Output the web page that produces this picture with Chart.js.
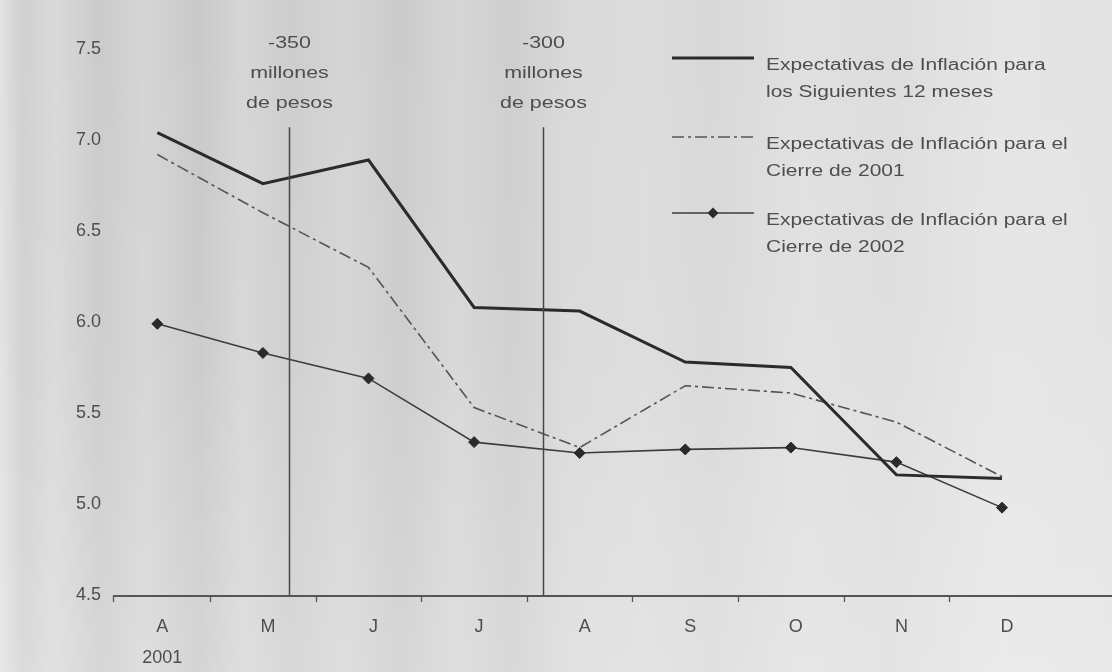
<!DOCTYPE html>
<html><head><meta charset="utf-8">
<script src="https://cdn.jsdelivr.net/npm/chart.js@4.4.1/dist/chart.umd.min.js"></script>
<style>
html,body{margin:0;padding:0;width:1112px;height:672px;overflow:hidden;}
body{
  background:
    linear-gradient(to bottom, rgba(255,255,255,0) 0%, rgba(255,255,255,0.05) 50%, rgba(255,255,255,0.22) 100%),
    linear-gradient(to right, #e2e2e2 0%, #d0d0d0 2%, #d9d9d9 5%, #cbcbcb 9%, #d5d5d5 13%, #c9c9c9 18%, #d6d6d6 22%, #cdcdcd 26%, #d5d5d5 31%, #cbcbcb 36%, #d6d6d6 41%, #cecece 46%, #d9d9d9 51%, #dcdcdc 58%, #d8d8d8 64%, #e0e0e0 72%, #dddddd 80%, #e5e5e5 90%, #e3e3e3 100%);
}
canvas{display:block;}
</style></head>
<body>
<canvas id="c" width="1112" height="672"></canvas>
<script>
// ---- data ----
const months = ['A','M','J','J','A','S','O','N','D'];
const yearLabel = '2001';
const sig12 = [7.04, 6.76, 6.89, 6.08, 6.06, 5.78, 5.75, 5.16, 5.14];
const cierre2001 = [6.92, 6.60, 6.30, 5.53, 5.31, 5.65, 5.61, 5.45, 5.15];
const cierre2002 = [5.99, 5.83, 5.69, 5.34, 5.28, 5.30, 5.31, 5.23, 4.98];
const seriesNames = [
  ['Expectativas de Inflación para', 'los Siguientes 12 meses'],
  ['Expectativas de Inflación para el', 'Cierre de 2001'],
  ['Expectativas de Inflación para el', 'Cierre de 2002']
];
const yTicks = [4.5, 5.0, 5.5, 6.0, 6.5, 7.0, 7.5];
const markerPos = [1.25, 3.65];
const markerText = [['-350', 'millones', 'de pesos'], ['-300', 'millones', 'de pesos']];
const markerTop = 7.07;

// ---- styles ----
const FONT = '"Liberation Sans", Arial, Helvetica, sans-serif';
const TXT = '#4e4e4e';

function stretchedText(ctx, t, x, y, align, k) {
  ctx.save();
  ctx.textAlign = 'left';
  const w = ctx.measureText(t).width * k;
  let x0 = x;
  if (align === 'center') x0 = x - w / 2;
  ctx.translate(x0, y);
  ctx.scale(k, 1);
  ctx.fillText(t, 0, 0);
  ctx.restore();
}

const toPts = arr => arr.map((v, i) => ({x: i, y: v}));

const markersPlugin = {
  id: 'markers',
  afterDatasetsDraw(chart) {
    const {ctx, chartArea, scales: {x, y}} = chart;
    ctx.save();
    // x axis line across full width
    ctx.strokeStyle = '#555';
    ctx.lineWidth = 2;
    ctx.beginPath();
    ctx.moveTo(chartArea.left, chartArea.bottom + 1);
    ctx.lineTo(chart.width, chartArea.bottom + 1);
    ctx.stroke();
    markerPos.forEach((p, i) => {
      const px = Math.round(x.getPixelForValue(p)) + 0.5;
      ctx.strokeStyle = '#474747';
      ctx.lineWidth = 1.5;
      ctx.beginPath();
      ctx.moveTo(px, y.getPixelForValue(markerTop));
      ctx.lineTo(px, chartArea.bottom);
      ctx.stroke();
      ctx.fillStyle = TXT;
      ctx.font = '17px ' + FONT;
      ctx.textBaseline = 'middle';
      markerText[i].forEach((t, j) => {
        stretchedText(ctx, t, px, chartArea.top - 6 + j * 30, 'center', 1.26);
      });
    });
    // axis tick marks between categories
    ctx.strokeStyle = '#555';
    ctx.lineWidth = 1.3;
    const ticksAt = [chartArea.left];
    for (let k = 0; k < months.length - 1; k++) ticksAt.push(x.getPixelForValue(k + 0.5));
    ticksAt.forEach(tx => {
      const px = Math.round(tx) + 0.5;
      ctx.beginPath();
      ctx.moveTo(px, chartArea.bottom);
      ctx.lineTo(px, chartArea.bottom + 7);
      ctx.stroke();
    });
    ctx.restore();
  }
};

const legendPlugin = {
  id: 'customLegend',
  afterDraw(chart) {
    const {ctx} = chart;
    const sampleY = [58, 137, 213];
    const x0 = 672, x1 = 754, tx = 766;
    ctx.save();
    chart.data.datasets.forEach((ds, i) => {
      const sy = sampleY[i];
      ctx.strokeStyle = ds.borderColor;
      ctx.lineWidth = ds.borderWidth;
      ctx.setLineDash(ds.borderDash || []);
      ctx.beginPath();
      ctx.moveTo(x0, sy);
      ctx.lineTo(x1, sy);
      ctx.stroke();
      ctx.setLineDash([]);
      if (ds.pointRadius > 0) {
        const cx = (x0 + x1) / 2, r = ds.pointRadius;
        ctx.fillStyle = ds.pointBackgroundColor;
        ctx.beginPath();
        ctx.moveTo(cx, sy - r); ctx.lineTo(cx + r, sy); ctx.lineTo(cx, sy + r); ctx.lineTo(cx - r, sy);
        ctx.closePath();
        ctx.fill();
      }
      ctx.fillStyle = TXT;
      ctx.font = '16px ' + FONT;
      ctx.textBaseline = 'middle';
      seriesNames[i].forEach((t, j) => {
        stretchedText(ctx, t, tx, sy + 8 + j * 27, 'left', 1.31);
      });
    });
    ctx.restore();
  }
};

new Chart(document.getElementById('c'), {
  type: 'line',
  data: {
    datasets: [
      {label: seriesNames[0].join(' '), data: toPts(sig12), borderColor: '#2b2b2b', borderWidth: 3,
       pointRadius: 0, tension: 0, order: 1},
      {label: seriesNames[1].join(' '), data: toPts(cierre2001), borderColor: '#555555', borderWidth: 1.6,
       borderDash: [12, 4, 3, 4], pointRadius: 0, tension: 0, order: 2},
      {label: seriesNames[2].join(' '), data: toPts(cierre2002), borderColor: '#3c3c3c', borderWidth: 1.6,
       pointRadius: 5.5, pointStyle: 'rectRot', pointBackgroundColor: '#2a2a2a', pointBorderColor: '#2a2a2a',
       pointBorderWidth: 1, tension: 0, order: 3}
    ]
  },
  options: {
    responsive: false,
    animation: false,
    devicePixelRatio: 1,
    layout: {padding: {top: 49, right: 0, bottom: 0, left: 0}},
    plugins: {legend: {display: false}, tooltip: {enabled: false}},
    scales: {
      x: {
        type: 'linear', min: -0.42, max: 8.98,
        afterBuildTicks: s => { s.ticks = months.map((m, i) => ({value: i})); },
        afterFit: s => { s.height = 77; },
        ticks: {
          callback: v => v === 0 ? [months[0], yearLabel] : months[v],
          font: {family: FONT, size: 18, lineHeight: 1.75},
          color: TXT, padding: 16, maxRotation: 0, autoSkip: false, labelOffset: 5
        },
        grid: {display: false, drawTicks: false},
        border: {display: false}
      },
      y: {
        min: 4.5, max: 7.5,
        afterBuildTicks: s => { s.ticks = yTicks.map(v => ({value: v})); },
        afterFit: s => { s.width = 113; },
        ticks: {
          callback: v => Number(v).toFixed(1),
          font: {family: FONT, size: 18}, color: TXT, padding: 12
        },
        grid: {display: false, drawTicks: false},
        border: {display: false}
      }
    }
  },
  plugins: [markersPlugin, legendPlugin]
});
</script>
</body></html>
